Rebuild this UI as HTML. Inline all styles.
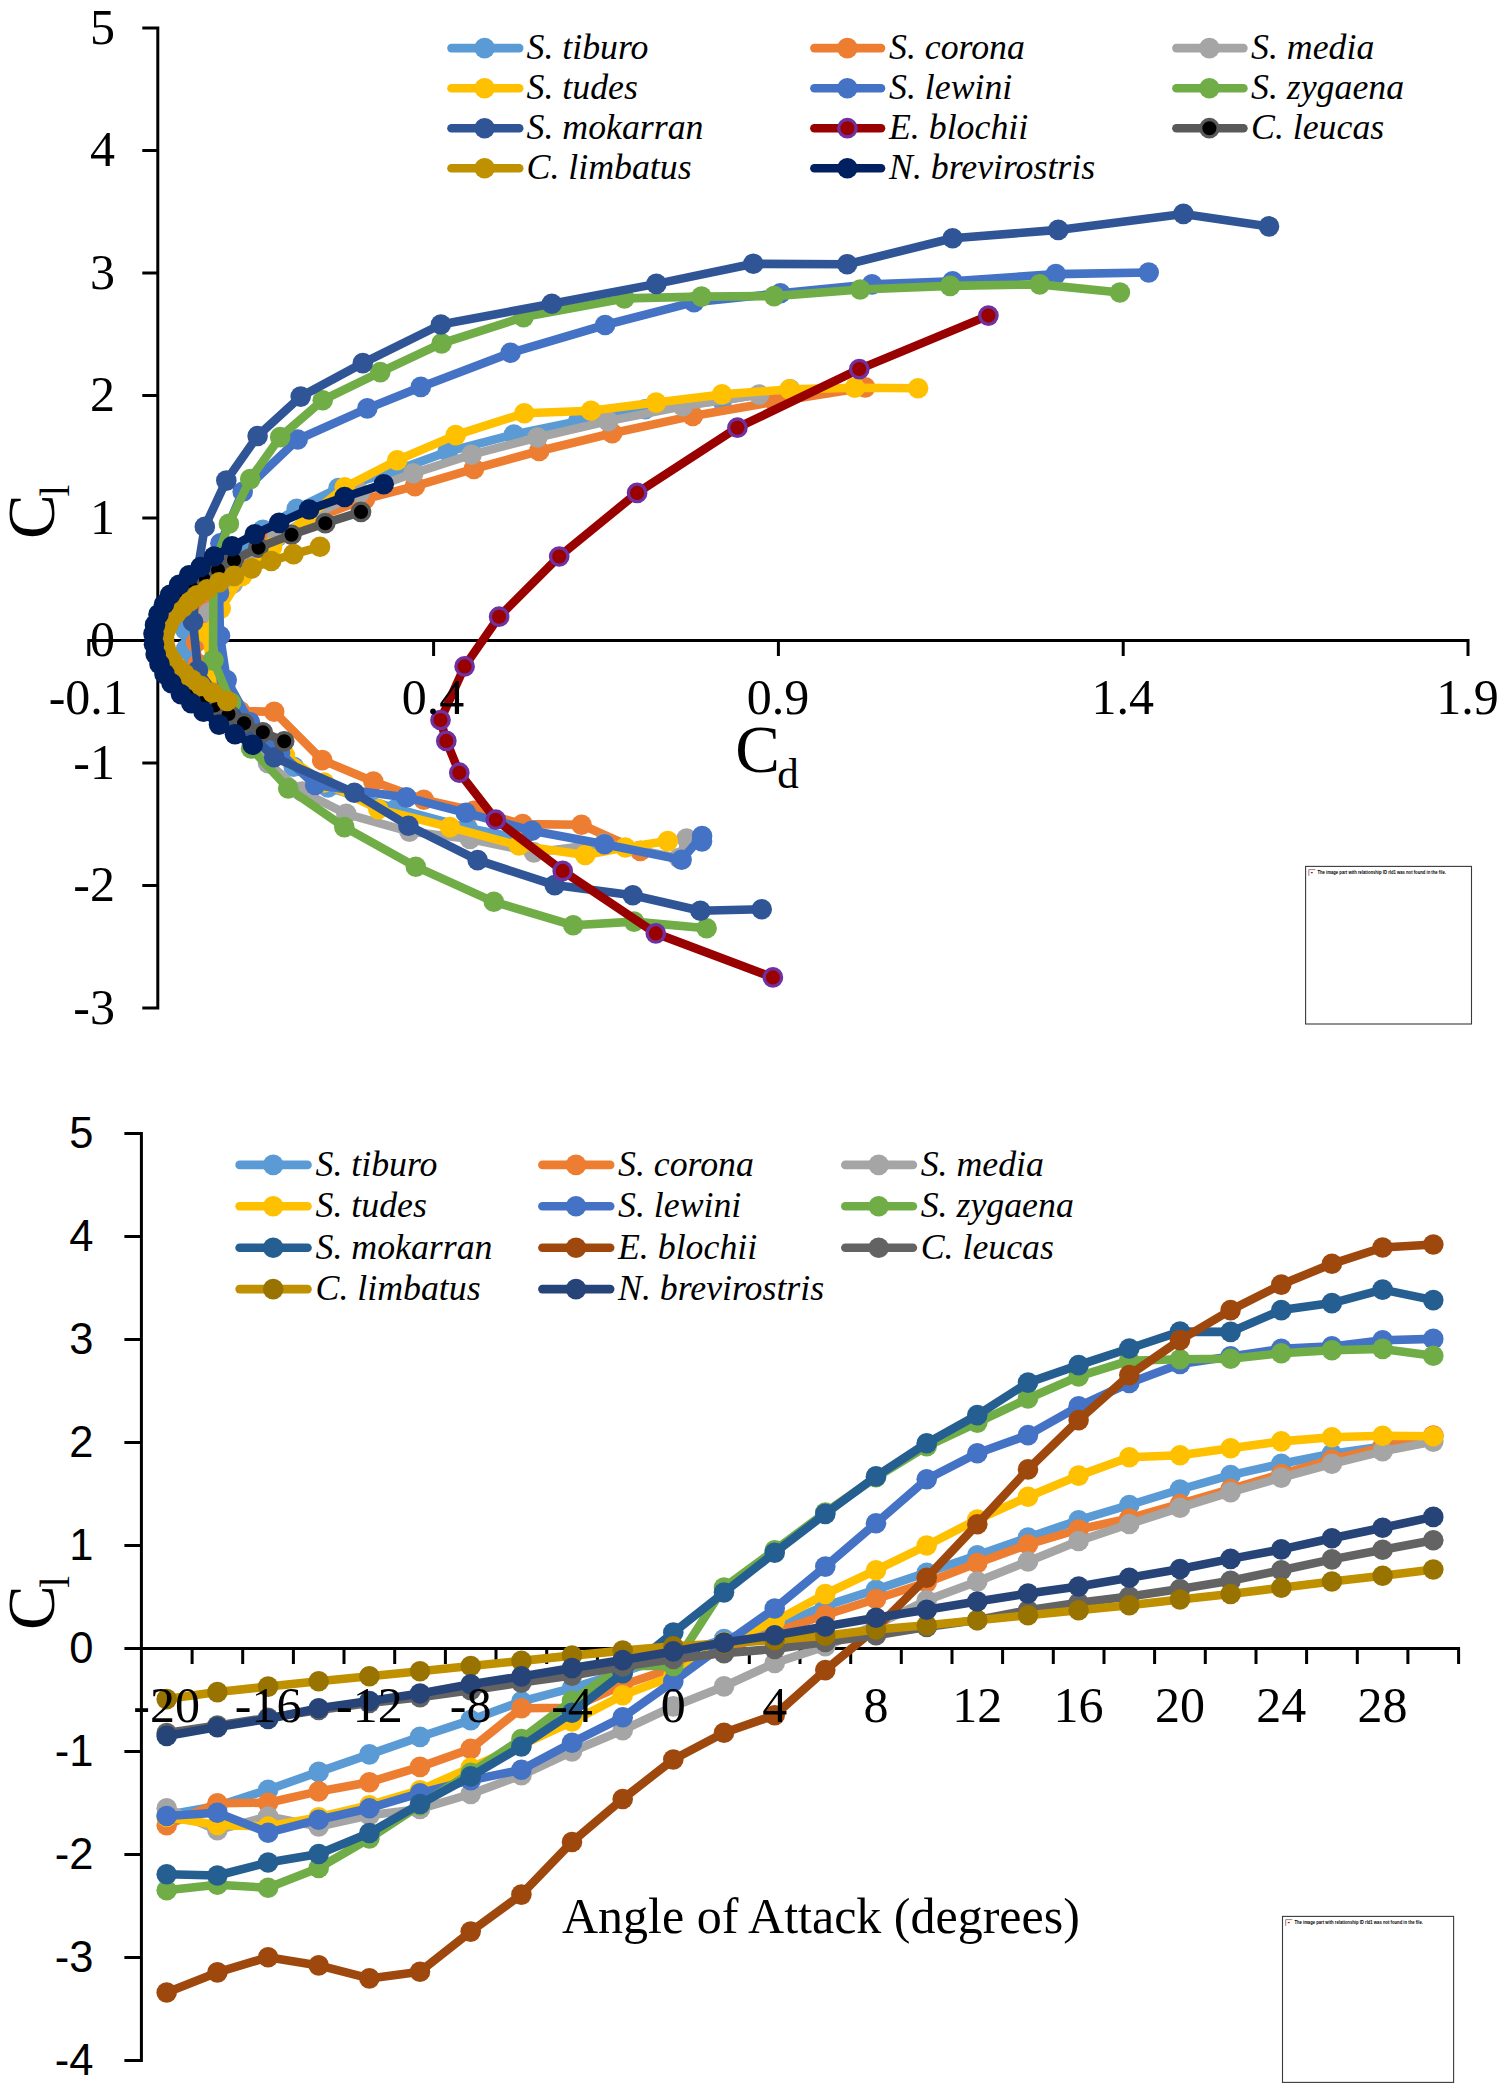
<!DOCTYPE html>
<html lang="en"><head><meta charset="utf-8"><title>Lift and drag coefficients</title>
<style>html,body{margin:0;padding:0;background:#fff}body{width:1498px;height:2091px;overflow:hidden}svg{display:block}text{font-family:"Liberation Serif","DejaVu Serif",serif;fill:#000}.tk{font-size:50px}.lg{font-size:35.8px;font-style:italic}.sans,.sg text{font-family:"Liberation Sans","DejaVu Sans",sans-serif}.ax{stroke:#000;stroke-width:3;fill:none;stroke-linecap:square}.s{fill:none;stroke-width:8.6;stroke-linejoin:round;stroke-linecap:round}</style></head><body>
<svg width="1498" height="2091" viewBox="0 0 1498 2091">
<rect width="1498" height="2091" fill="#fff"/>
<path class="ax" d="M157.8 28.1V1008.1M143.8 1008.1H157.8M143.8 885.6H157.8M143.8 763.1H157.8M143.8 640.6H157.8M143.8 518.1H157.8M143.8 395.6H157.8M143.8 273.1H157.8M143.8 150.6H157.8M143.8 28.1H157.8M88.8 640.6H1468M88.8 640.6V654.6M433.6 640.6V654.6M778.4 640.6V654.6M1123.2 640.6V654.6M1468 640.6V654.6"/>
<g>
<polyline class="s" stroke="#5B9BD5" points="522,838.7 467.6,828 396.3,808.7 328,787.5 293.7,766.7 263.6,745.9 237.8,725.9 216.8,703.6 201,687.9 190.6,668.7 186,649 185,629.4 191.3,615.7 206.7,589.9 226.3,570.8 245,550.6 262.8,529.8 296.7,508.7 338.5,488.1 397,470.1 447.8,451.6 513.9,434.5 578.3,421.1 645.2,409.2 722,400.5 790,389.3"/>
<g fill="#5B9BD5">
<circle cx="522" cy="838.7" r="10.3"/>
<circle cx="467.6" cy="828" r="10.3"/>
<circle cx="396.3" cy="808.7" r="10.3"/>
<circle cx="328" cy="787.5" r="10.3"/>
<circle cx="293.7" cy="766.7" r="10.3"/>
<circle cx="263.6" cy="745.9" r="10.3"/>
<circle cx="237.8" cy="725.9" r="10.3"/>
<circle cx="216.8" cy="703.6" r="10.3"/>
<circle cx="201" cy="687.9" r="10.3"/>
<circle cx="190.6" cy="668.7" r="10.3"/>
<circle cx="186" cy="649" r="10.3"/>
<circle cx="185" cy="629.4" r="10.3"/>
<circle cx="191.3" cy="615.7" r="10.3"/>
<circle cx="206.7" cy="589.9" r="10.3"/>
<circle cx="226.3" cy="570.8" r="10.3"/>
<circle cx="245" cy="550.6" r="10.3"/>
<circle cx="262.8" cy="529.8" r="10.3"/>
<circle cx="296.7" cy="508.7" r="10.3"/>
<circle cx="338.5" cy="488.1" r="10.3"/>
<circle cx="397" cy="470.1" r="10.3"/>
<circle cx="447.8" cy="451.6" r="10.3"/>
<circle cx="513.9" cy="434.5" r="10.3"/>
<circle cx="578.3" cy="421.1" r="10.3"/>
<circle cx="645.2" cy="409.2" r="10.3"/>
<circle cx="722" cy="400.5" r="10.3"/>
<circle cx="790" cy="389.3" r="10.3"/>
</g></g>
<g>
<polyline class="s" stroke="#ED7D31" points="640.3,850.9 581.5,824.7 522.6,824.1 473.8,810.7 423.8,799.7 373.3,781.5 322.2,760.1 274.2,711.7 240,711.1 213.2,684.1 198,663.9 196,642.5 198.2,621.1 204,600.9 222,581.8 243,562.2 270,539 318,517 365,499.2 415,486.1 473.9,468.9 539.2,451 612.2,433.2 692.8,415.9 775,401.7 865.2,387.4"/>
<g fill="#ED7D31">
<circle cx="640.3" cy="850.9" r="10.3"/>
<circle cx="581.5" cy="824.7" r="10.3"/>
<circle cx="522.6" cy="824.1" r="10.3"/>
<circle cx="473.8" cy="810.7" r="10.3"/>
<circle cx="423.8" cy="799.7" r="10.3"/>
<circle cx="373.3" cy="781.5" r="10.3"/>
<circle cx="322.2" cy="760.1" r="10.3"/>
<circle cx="274.2" cy="711.7" r="10.3"/>
<circle cx="240" cy="711.1" r="10.3"/>
<circle cx="213.2" cy="684.1" r="10.3"/>
<circle cx="198" cy="663.9" r="10.3"/>
<circle cx="196" cy="642.5" r="10.3"/>
<circle cx="198.2" cy="621.1" r="10.3"/>
<circle cx="204" cy="600.9" r="10.3"/>
<circle cx="222" cy="581.8" r="10.3"/>
<circle cx="243" cy="562.2" r="10.3"/>
<circle cx="270" cy="539" r="10.3"/>
<circle cx="318" cy="517" r="10.3"/>
<circle cx="365" cy="499.2" r="10.3"/>
<circle cx="415" cy="486.1" r="10.3"/>
<circle cx="473.9" cy="468.9" r="10.3"/>
<circle cx="539.2" cy="451" r="10.3"/>
<circle cx="612.2" cy="433.2" r="10.3"/>
<circle cx="692.8" cy="415.9" r="10.3"/>
<circle cx="775" cy="401.7" r="10.3"/>
<circle cx="865.2" cy="387.4" r="10.3"/>
</g></g>
<g>
<polyline class="s" stroke="#A5A5A5" points="686.6,838.5 679,858 604,843.5 533.9,852.4 470,839 409.4,831.6 346.3,813.8 302,791.5 268,763.2 251.4,737.9 237.1,709.6 225.3,685.8 216.5,658 210.9,638.1 209,612.8 233,583.4 250,561 277,537.2 318,512.9 360,492.6 413.3,473.3 471.5,454.7 537.4,437.5 608.2,421.1 682.8,406.2 759.1,394.6"/>
<g fill="#A5A5A5">
<circle cx="686.6" cy="838.5" r="10.3"/>
<circle cx="679" cy="858" r="10.3"/>
<circle cx="604" cy="843.5" r="10.3"/>
<circle cx="533.9" cy="852.4" r="10.3"/>
<circle cx="470" cy="839" r="10.3"/>
<circle cx="409.4" cy="831.6" r="10.3"/>
<circle cx="346.3" cy="813.8" r="10.3"/>
<circle cx="302" cy="791.5" r="10.3"/>
<circle cx="268" cy="763.2" r="10.3"/>
<circle cx="251.4" cy="737.9" r="10.3"/>
<circle cx="237.1" cy="709.6" r="10.3"/>
<circle cx="225.3" cy="685.8" r="10.3"/>
<circle cx="216.5" cy="658" r="10.3"/>
<circle cx="210.9" cy="638.1" r="10.3"/>
<circle cx="209" cy="612.8" r="10.3"/>
<circle cx="233" cy="583.4" r="10.3"/>
<circle cx="250" cy="561" r="10.3"/>
<circle cx="277" cy="537.2" r="10.3"/>
<circle cx="318" cy="512.9" r="10.3"/>
<circle cx="360" cy="492.6" r="10.3"/>
<circle cx="413.3" cy="473.3" r="10.3"/>
<circle cx="471.5" cy="454.7" r="10.3"/>
<circle cx="537.4" cy="437.5" r="10.3"/>
<circle cx="608.2" cy="421.1" r="10.3"/>
<circle cx="682.8" cy="406.2" r="10.3"/>
<circle cx="759.1" cy="394.6" r="10.3"/>
</g></g>
<g>
<polyline class="s" stroke="#FFC000" points="667.8,841.1 625.3,847.5 585.2,855 518.9,845.5 450,827.1 378.3,809.2 324,782.5 285,755.5 250,727.5 228,696.3 212,673.4 206,633 220.7,608.6 242,575.9 272,547.6 306,518.2 344.7,487.3 397.2,460.2 455.7,435.1 524.3,413.3 591,410.8 656.1,402.6 722,394.4 789.6,389.4 854.8,387.8 918.1,388.2"/>
<g fill="#FFC000">
<circle cx="667.8" cy="841.1" r="10.3"/>
<circle cx="625.3" cy="847.5" r="10.3"/>
<circle cx="585.2" cy="855" r="10.3"/>
<circle cx="518.9" cy="845.5" r="10.3"/>
<circle cx="450" cy="827.1" r="10.3"/>
<circle cx="378.3" cy="809.2" r="10.3"/>
<circle cx="324" cy="782.5" r="10.3"/>
<circle cx="285" cy="755.5" r="10.3"/>
<circle cx="250" cy="727.5" r="10.3"/>
<circle cx="228" cy="696.3" r="10.3"/>
<circle cx="212" cy="673.4" r="10.3"/>
<circle cx="206" cy="633" r="10.3"/>
<circle cx="220.7" cy="608.6" r="10.3"/>
<circle cx="242" cy="575.9" r="10.3"/>
<circle cx="272" cy="547.6" r="10.3"/>
<circle cx="306" cy="518.2" r="10.3"/>
<circle cx="344.7" cy="487.3" r="10.3"/>
<circle cx="397.2" cy="460.2" r="10.3"/>
<circle cx="455.7" cy="435.1" r="10.3"/>
<circle cx="524.3" cy="413.3" r="10.3"/>
<circle cx="591" cy="410.8" r="10.3"/>
<circle cx="656.1" cy="402.6" r="10.3"/>
<circle cx="722" cy="394.4" r="10.3"/>
<circle cx="789.6" cy="389.4" r="10.3"/>
<circle cx="854.8" cy="387.8" r="10.3"/>
<circle cx="918.1" cy="388.2" r="10.3"/>
</g></g>
<g>
<polyline class="s" stroke="#4472C4" points="702,841.5 702.1,836 681.6,859.8 604.5,844.3 531.9,830.7 465.8,812.8 406.4,797.4 315.2,785 280,752.8 250,722.4 226.7,680.1 220,635.7 219,593.1 220.4,543.3 242.7,491.7 297.7,439.5 367.3,408.4 420.8,386.9 510.6,352.8 605.1,325 694,302.2 780.4,293.3 872,284.4 952.6,281.4 1055.8,274.1 1148.7,272.5"/>
<g fill="#4472C4">
<circle cx="702" cy="841.5" r="10.3"/>
<circle cx="702.1" cy="836" r="10.3"/>
<circle cx="681.6" cy="859.8" r="10.3"/>
<circle cx="604.5" cy="844.3" r="10.3"/>
<circle cx="531.9" cy="830.7" r="10.3"/>
<circle cx="465.8" cy="812.8" r="10.3"/>
<circle cx="406.4" cy="797.4" r="10.3"/>
<circle cx="315.2" cy="785" r="10.3"/>
<circle cx="280" cy="752.8" r="10.3"/>
<circle cx="250" cy="722.4" r="10.3"/>
<circle cx="226.7" cy="680.1" r="10.3"/>
<circle cx="220" cy="635.7" r="10.3"/>
<circle cx="219" cy="593.1" r="10.3"/>
<circle cx="220.4" cy="543.3" r="10.3"/>
<circle cx="242.7" cy="491.7" r="10.3"/>
<circle cx="297.7" cy="439.5" r="10.3"/>
<circle cx="367.3" cy="408.4" r="10.3"/>
<circle cx="420.8" cy="386.9" r="10.3"/>
<circle cx="510.6" cy="352.8" r="10.3"/>
<circle cx="605.1" cy="325" r="10.3"/>
<circle cx="694" cy="302.2" r="10.3"/>
<circle cx="780.4" cy="293.3" r="10.3"/>
<circle cx="872" cy="284.4" r="10.3"/>
<circle cx="952.6" cy="281.4" r="10.3"/>
<circle cx="1055.8" cy="274.1" r="10.3"/>
<circle cx="1148.7" cy="272.5" r="10.3"/>
</g></g>
<g>
<polyline class="s" stroke="#70AD47" points="706.6,928.3 634,921.6 573.2,925.3 493.8,901.8 415.8,866.7 344.3,827.1 288.2,788.4 251.1,748.4 231,702.8 213.5,660.5 213,660 213.5,568.2 228.9,523.8 250.2,479.1 280.2,437.1 322.7,400.2 380.3,372.1 441.6,343.4 523.5,317.1 624.4,298.4 701.5,296.6 774.1,296.1 860.2,289.5 950.1,285.9 1039.7,284.4 1119.9,292.5"/>
<g fill="#70AD47">
<circle cx="706.6" cy="928.3" r="10.3"/>
<circle cx="634" cy="921.6" r="10.3"/>
<circle cx="573.2" cy="925.3" r="10.3"/>
<circle cx="493.8" cy="901.8" r="10.3"/>
<circle cx="415.8" cy="866.7" r="10.3"/>
<circle cx="344.3" cy="827.1" r="10.3"/>
<circle cx="288.2" cy="788.4" r="10.3"/>
<circle cx="251.1" cy="748.4" r="10.3"/>
<circle cx="231" cy="702.8" r="10.3"/>
<circle cx="213.5" cy="660.5" r="10.3"/>
<circle cx="213" cy="660" r="10.3"/>
<circle cx="213.5" cy="568.2" r="10.3"/>
<circle cx="228.9" cy="523.8" r="10.3"/>
<circle cx="250.2" cy="479.1" r="10.3"/>
<circle cx="280.2" cy="437.1" r="10.3"/>
<circle cx="322.7" cy="400.2" r="10.3"/>
<circle cx="380.3" cy="372.1" r="10.3"/>
<circle cx="441.6" cy="343.4" r="10.3"/>
<circle cx="523.5" cy="317.1" r="10.3"/>
<circle cx="624.4" cy="298.4" r="10.3"/>
<circle cx="701.5" cy="296.6" r="10.3"/>
<circle cx="774.1" cy="296.1" r="10.3"/>
<circle cx="860.2" cy="289.5" r="10.3"/>
<circle cx="950.1" cy="285.9" r="10.3"/>
<circle cx="1039.7" cy="284.4" r="10.3"/>
<circle cx="1119.9" cy="292.5" r="10.3"/>
</g></g>
<g>
<polyline class="s" stroke="#2F5597" points="761.7,909.3 700.4,910.7 632.8,895.2 554.7,885.1 477.6,860.1 408.4,825.7 354.3,792.8 274.2,757.3 232,717.1 198,670.2 193,621.8 197,574.1 204.8,526.8 226.3,480.6 257.6,436 300.7,396.6 362.8,363.1 440.9,324.5 551.8,303.7 656.4,283.9 753.3,263.8 847.2,264.2 952.6,238.3 1058.3,229.9 1183.4,213.9 1269,226.4"/>
<g fill="#2F5597">
<circle cx="761.7" cy="909.3" r="10.3"/>
<circle cx="700.4" cy="910.7" r="10.3"/>
<circle cx="632.8" cy="895.2" r="10.3"/>
<circle cx="554.7" cy="885.1" r="10.3"/>
<circle cx="477.6" cy="860.1" r="10.3"/>
<circle cx="408.4" cy="825.7" r="10.3"/>
<circle cx="354.3" cy="792.8" r="10.3"/>
<circle cx="274.2" cy="757.3" r="10.3"/>
<circle cx="232" cy="717.1" r="10.3"/>
<circle cx="198" cy="670.2" r="10.3"/>
<circle cx="193" cy="621.8" r="10.3"/>
<circle cx="197" cy="574.1" r="10.3"/>
<circle cx="204.8" cy="526.8" r="10.3"/>
<circle cx="226.3" cy="480.6" r="10.3"/>
<circle cx="257.6" cy="436" r="10.3"/>
<circle cx="300.7" cy="396.6" r="10.3"/>
<circle cx="362.8" cy="363.1" r="10.3"/>
<circle cx="440.9" cy="324.5" r="10.3"/>
<circle cx="551.8" cy="303.7" r="10.3"/>
<circle cx="656.4" cy="283.9" r="10.3"/>
<circle cx="753.3" cy="263.8" r="10.3"/>
<circle cx="847.2" cy="264.2" r="10.3"/>
<circle cx="952.6" cy="238.3" r="10.3"/>
<circle cx="1058.3" cy="229.9" r="10.3"/>
<circle cx="1183.4" cy="213.9" r="10.3"/>
<circle cx="1269" cy="226.4" r="10.3"/>
</g></g>
<g>
<polyline class="s" stroke="#990000" points="772.9,977.4 655.8,933.4 562.7,870.9 495.8,819.7 459.3,772.7 446.3,740.9 440.5,720 464.6,666.4 499.1,616.7 559.2,556.5 637.1,492.9 737.4,427.7 859.3,369.1 988.4,315.6"/>
<g fill="#990000" stroke="#7030A0" stroke-width="3.3">
<circle cx="772.9" cy="977.4" r="8.7"/>
<circle cx="655.8" cy="933.4" r="8.7"/>
<circle cx="562.7" cy="870.9" r="8.7"/>
<circle cx="495.8" cy="819.7" r="8.7"/>
<circle cx="459.3" cy="772.7" r="8.7"/>
<circle cx="446.3" cy="740.9" r="8.7"/>
<circle cx="440.5" cy="720" r="8.7"/>
<circle cx="464.6" cy="666.4" r="8.7"/>
<circle cx="499.1" cy="616.7" r="8.7"/>
<circle cx="559.2" cy="556.5" r="8.7"/>
<circle cx="637.1" cy="492.9" r="8.7"/>
<circle cx="737.4" cy="427.7" r="8.7"/>
<circle cx="859.3" cy="369.1" r="8.7"/>
<circle cx="988.4" cy="315.6" r="8.7"/>
</g></g>
<g>
<polyline class="s" stroke="#595959" points="284.2,741.3 262.8,732.3 244.1,723.3 228.5,713.9 214.5,705.5 203,698.8 192,690.4 180,681.3 172.7,672.9 165.6,662 161.9,653.1 160.4,646.2 160,641.3 160.7,633 162.9,625 167.9,615.1 173.8,606.8 184.9,595.3 196,586.4 206,578.9 218,570 234,560.1 258.5,547.6 291.5,534.8 325.3,523.2 361,511.9"/>
<g fill="#000000" stroke="#595959" stroke-width="3.3">
<circle cx="284.2" cy="741.3" r="8.7"/>
<circle cx="262.8" cy="732.3" r="8.7"/>
<circle cx="244.1" cy="723.3" r="8.7"/>
<circle cx="228.5" cy="713.9" r="8.7"/>
<circle cx="214.5" cy="705.5" r="8.7"/>
<circle cx="203" cy="698.8" r="8.7"/>
<circle cx="192" cy="690.4" r="8.7"/>
<circle cx="180" cy="681.3" r="8.7"/>
<circle cx="172.7" cy="672.9" r="8.7"/>
<circle cx="165.6" cy="662" r="8.7"/>
<circle cx="161.9" cy="653.1" r="8.7"/>
<circle cx="160.4" cy="646.2" r="8.7"/>
<circle cx="160" cy="641.3" r="8.7"/>
<circle cx="160.7" cy="633" r="8.7"/>
<circle cx="162.9" cy="625" r="8.7"/>
<circle cx="167.9" cy="615.1" r="8.7"/>
<circle cx="173.8" cy="606.8" r="8.7"/>
<circle cx="184.9" cy="595.3" r="8.7"/>
<circle cx="196" cy="586.4" r="8.7"/>
<circle cx="206" cy="578.9" r="8.7"/>
<circle cx="218" cy="570" r="8.7"/>
<circle cx="234" cy="560.1" r="8.7"/>
<circle cx="258.5" cy="547.6" r="8.7"/>
<circle cx="291.5" cy="534.8" r="8.7"/>
<circle cx="325.3" cy="523.2" r="8.7"/>
<circle cx="361" cy="511.9" r="8.7"/>
</g></g>
<g>
<polyline class="s" stroke="#BF9000" points="227.1,700.9 212.5,692.6 201,686 192,679.7 184.5,673.8 178,667.8 172.5,661.5 168.5,655.5 166,649.2 164.5,643.2 164,638.2 164.3,634.8 165.5,630.6 168,625.6 171.5,618.1 176.5,613.1 183,607.2 190,601.2 197,595.3 207.1,589.3 219.1,582.4 234.1,575.9 251.7,568.4 271.2,561 293.5,554.1 320,546.8"/>
<g fill="#BF9000">
<circle cx="227.1" cy="700.9" r="10.3"/>
<circle cx="212.5" cy="692.6" r="10.3"/>
<circle cx="201" cy="686" r="10.3"/>
<circle cx="192" cy="679.7" r="10.3"/>
<circle cx="184.5" cy="673.8" r="10.3"/>
<circle cx="178" cy="667.8" r="10.3"/>
<circle cx="172.5" cy="661.5" r="10.3"/>
<circle cx="168.5" cy="655.5" r="10.3"/>
<circle cx="166" cy="649.2" r="10.3"/>
<circle cx="164.5" cy="643.2" r="10.3"/>
<circle cx="164" cy="638.2" r="10.3"/>
<circle cx="164.3" cy="634.8" r="10.3"/>
<circle cx="165.5" cy="630.6" r="10.3"/>
<circle cx="168" cy="625.6" r="10.3"/>
<circle cx="171.5" cy="618.1" r="10.3"/>
<circle cx="176.5" cy="613.1" r="10.3"/>
<circle cx="183" cy="607.2" r="10.3"/>
<circle cx="190" cy="601.2" r="10.3"/>
<circle cx="197" cy="595.3" r="10.3"/>
<circle cx="207.1" cy="589.3" r="10.3"/>
<circle cx="219.1" cy="582.4" r="10.3"/>
<circle cx="234.1" cy="575.9" r="10.3"/>
<circle cx="251.7" cy="568.4" r="10.3"/>
<circle cx="271.2" cy="561" r="10.3"/>
<circle cx="293.5" cy="554.1" r="10.3"/>
<circle cx="320" cy="546.8" r="10.3"/>
</g></g>
<g>
<polyline class="s" stroke="#002060" points="252.7,744.7 235,734.2 219,724.6 203.5,711.8 191.3,703.2 181,694.2 171.5,683.3 164.5,673.9 159.5,664 155.7,654.5 154,644.2 153.5,633.7 155,624.9 158.5,614.4 164,604.2 170.1,594.7 179.1,584.8 189.1,575.3 200.6,567 214.1,556.5 232,546.2 254.8,534.2 279.2,522.9 309.1,509.5 344.6,497 383.7,484.2"/>
<g fill="#002060">
<circle cx="252.7" cy="744.7" r="10.3"/>
<circle cx="235" cy="734.2" r="10.3"/>
<circle cx="219" cy="724.6" r="10.3"/>
<circle cx="203.5" cy="711.8" r="10.3"/>
<circle cx="191.3" cy="703.2" r="10.3"/>
<circle cx="181" cy="694.2" r="10.3"/>
<circle cx="171.5" cy="683.3" r="10.3"/>
<circle cx="164.5" cy="673.9" r="10.3"/>
<circle cx="159.5" cy="664" r="10.3"/>
<circle cx="155.7" cy="654.5" r="10.3"/>
<circle cx="154" cy="644.2" r="10.3"/>
<circle cx="153.5" cy="633.7" r="10.3"/>
<circle cx="155" cy="624.9" r="10.3"/>
<circle cx="158.5" cy="614.4" r="10.3"/>
<circle cx="164" cy="604.2" r="10.3"/>
<circle cx="170.1" cy="594.7" r="10.3"/>
<circle cx="179.1" cy="584.8" r="10.3"/>
<circle cx="189.1" cy="575.3" r="10.3"/>
<circle cx="200.6" cy="567" r="10.3"/>
<circle cx="214.1" cy="556.5" r="10.3"/>
<circle cx="232" cy="546.2" r="10.3"/>
<circle cx="254.8" cy="534.2" r="10.3"/>
<circle cx="279.2" cy="522.9" r="10.3"/>
<circle cx="309.1" cy="509.5" r="10.3"/>
<circle cx="344.6" cy="497" r="10.3"/>
<circle cx="383.7" cy="484.2" r="10.3"/>
</g></g>
<g class="tk" text-anchor="end">
<text x="115" y="1023.8">-3</text>
<text x="115" y="901.3">-2</text>
<text x="115" y="778.8">-1</text>
<text x="115" y="656.3">0</text>
<text x="115" y="533.8">1</text>
<text x="115" y="411.3">2</text>
<text x="115" y="288.8">3</text>
<text x="115" y="166.3">4</text>
<text x="115" y="43.8">5</text>
</g>
<g class="tk" text-anchor="middle">
<text x="88.3" y="714.3">-0.1</text>
<text x="433.1" y="714.3">0.4</text>
<text x="777.9" y="714.3">0.9</text>
<text x="1122.7" y="714.3">1.4</text>
<text x="1467.5" y="714.3">1.9</text>
</g>
<text x="735.2" y="771.6" font-size="67">C</text><text x="777.2" y="787.6" font-size="43">d</text>
<text transform="translate(54.2,538.9) rotate(-90)" font-size="67">C</text><text transform="translate(69.2,496.6) rotate(-90)" font-size="42.5">l</text>
<line class="s" stroke="#5B9BD5" x1="451.5" y1="48.1" x2="519.2" y2="48.1"/>
<circle cx="484.6" cy="48.1" r="10.3" fill="#5B9BD5"/>
<text class="lg" x="526.5" y="58.7">S. tiburo</text>
<line class="s" stroke="#ED7D31" x1="814.4" y1="48.1" x2="881" y2="48.1"/>
<circle cx="847.4" cy="48.1" r="10.3" fill="#ED7D31"/>
<text class="lg" x="889" y="58.7">S. corona</text>
<line class="s" stroke="#A5A5A5" x1="1176.4" y1="48.1" x2="1243.4" y2="48.1"/>
<circle cx="1209.4" cy="48.1" r="10.3" fill="#A5A5A5"/>
<text class="lg" x="1251" y="58.7">S. media</text>
<line class="s" stroke="#FFC000" x1="451.5" y1="88.2" x2="519.2" y2="88.2"/>
<circle cx="484.6" cy="88.2" r="10.3" fill="#FFC000"/>
<text class="lg" x="526.5" y="98.8">S. tudes</text>
<line class="s" stroke="#4472C4" x1="814.4" y1="88.2" x2="881" y2="88.2"/>
<circle cx="847.4" cy="88.2" r="10.3" fill="#4472C4"/>
<text class="lg" x="889" y="98.8">S. lewini</text>
<line class="s" stroke="#70AD47" x1="1176.4" y1="88.2" x2="1243.4" y2="88.2"/>
<circle cx="1209.4" cy="88.2" r="10.3" fill="#70AD47"/>
<text class="lg" x="1251" y="98.8">S. zygaena</text>
<line class="s" stroke="#2F5597" x1="451.5" y1="128.2" x2="519.2" y2="128.2"/>
<circle cx="484.6" cy="128.2" r="10.3" fill="#2F5597"/>
<text class="lg" x="526.5" y="138.8">S. mokarran</text>
<line class="s" stroke="#990000" x1="814.4" y1="128.2" x2="881" y2="128.2"/>
<circle cx="847.4" cy="128.2" r="8.7" fill="#990000" stroke="#7030A0" stroke-width="3.3"/>
<text class="lg" x="889" y="138.8">E. blochii</text>
<line class="s" stroke="#595959" x1="1176.4" y1="128.2" x2="1243.4" y2="128.2"/>
<circle cx="1209.4" cy="128.2" r="8.7" fill="#000000" stroke="#595959" stroke-width="3.3"/>
<text class="lg" x="1251" y="138.8">C. leucas</text>
<line class="s" stroke="#BF9000" x1="451.5" y1="168.2" x2="519.2" y2="168.2"/>
<circle cx="484.6" cy="168.2" r="10.3" fill="#BF9000"/>
<text class="lg" x="526.5" y="178.8">C. limbatus</text>
<line class="s" stroke="#002060" x1="814.4" y1="168.2" x2="881" y2="168.2"/>
<circle cx="847.4" cy="168.2" r="10.3" fill="#002060"/>
<text class="lg" x="889" y="178.8">N. brevirostris</text>
<rect x="1305.6" y="866.4" width="165.9" height="157.6" fill="#fff" stroke="#3a3a3a" stroke-width="1.1"/>
<path d="M1308.8 875.9v-6.3h6.6" fill="none" stroke="#8a8a8a" stroke-width="1"/>
<rect x="1310.8" y="872" width="2" height="1.2" fill="#e00"/>
<text class="sans" x="1317.5" y="873.9" font-size="5.1" font-weight="bold" textLength="128.5" lengthAdjust="spacingAndGlyphs">The image part with relationship ID rId1 was not found in the file.</text>
<path class="ax" d="M141.4 1133.4V2060.4M125.9 2060.4H141.4M125.9 1957.4H141.4M125.9 1854.4H141.4M125.9 1751.4H141.4M125.9 1648.4H141.4M125.9 1545.4H141.4M125.9 1442.4H141.4M125.9 1339.4H141.4M125.9 1236.4H141.4M125.9 1133.4H141.4M141.4 1648.4H1458.6M192.1 1648.4V1662.4M242.7 1648.4V1662.4M293.4 1648.4V1662.4M344 1648.4V1662.4M394.7 1648.4V1662.4M445.4 1648.4V1662.4M496 1648.4V1662.4M546.7 1648.4V1662.4M597.4 1648.4V1662.4M648 1648.4V1662.4M698.7 1648.4V1662.4M749.3 1648.4V1662.4M800 1648.4V1662.4M850.7 1648.4V1662.4M901.3 1648.4V1662.4M952 1648.4V1662.4M1002.6 1648.4V1662.4M1053.3 1648.4V1662.4M1104 1648.4V1662.4M1154.6 1648.4V1662.4M1205.3 1648.4V1662.4M1256 1648.4V1662.4M1306.6 1648.4V1662.4M1357.3 1648.4V1662.4M1407.9 1648.4V1662.4M1458.6 1648.4V1662.4"/>
<g>
<polyline class="s" stroke="#5B9BD5" points="166.7,1815 217.4,1806 268.1,1789.7 318.7,1771.9 369.4,1754.4 420,1736.9 470.7,1720.1 521.4,1701.4 572,1688.2 622.7,1672 673.3,1655.5 724,1639 774.7,1627.5 825.3,1605.8 876,1589.7 926.7,1572.7 977.3,1555.2 1028,1537.5 1078.6,1520.2 1129.3,1505 1180,1489.5 1230.6,1475.1 1281.3,1463.8 1331.9,1453.8 1382.6,1446.5 1433.3,1436"/>
<g fill="#5B9BD5">
<circle cx="166.7" cy="1815" r="10.3"/>
<circle cx="217.4" cy="1806" r="10.3"/>
<circle cx="268.1" cy="1789.7" r="10.3"/>
<circle cx="318.7" cy="1771.9" r="10.3"/>
<circle cx="369.4" cy="1754.4" r="10.3"/>
<circle cx="420" cy="1736.9" r="10.3"/>
<circle cx="470.7" cy="1720.1" r="10.3"/>
<circle cx="521.4" cy="1701.4" r="10.3"/>
<circle cx="572" cy="1688.2" r="10.3"/>
<circle cx="622.7" cy="1672" r="10.3"/>
<circle cx="673.3" cy="1655.5" r="10.3"/>
<circle cx="724" cy="1639" r="10.3"/>
<circle cx="774.7" cy="1627.5" r="10.3"/>
<circle cx="825.3" cy="1605.8" r="10.3"/>
<circle cx="876" cy="1589.7" r="10.3"/>
<circle cx="926.7" cy="1572.7" r="10.3"/>
<circle cx="977.3" cy="1555.2" r="10.3"/>
<circle cx="1028" cy="1537.5" r="10.3"/>
<circle cx="1078.6" cy="1520.2" r="10.3"/>
<circle cx="1129.3" cy="1505" r="10.3"/>
<circle cx="1180" cy="1489.5" r="10.3"/>
<circle cx="1230.6" cy="1475.1" r="10.3"/>
<circle cx="1281.3" cy="1463.8" r="10.3"/>
<circle cx="1331.9" cy="1453.8" r="10.3"/>
<circle cx="1382.6" cy="1446.5" r="10.3"/>
<circle cx="1433.3" cy="1436" r="10.3"/>
</g></g>
<g>
<polyline class="s" stroke="#ED7D31" points="166.7,1825.2 217.4,1803.2 268.1,1802.7 318.7,1791.4 369.4,1782.2 420,1766.9 470.7,1748.9 521.4,1708.2 572,1707.7 622.7,1685 673.3,1668 724,1650 774.7,1632 825.3,1615 876,1599 926.7,1582.5 977.3,1563 1028,1544.5 1078.6,1529.5 1129.3,1518.5 1180,1504 1230.6,1489 1281.3,1474 1331.9,1459.5 1382.6,1447.5 1433.3,1435.5"/>
<g fill="#ED7D31">
<circle cx="166.7" cy="1825.2" r="10.3"/>
<circle cx="217.4" cy="1803.2" r="10.3"/>
<circle cx="268.1" cy="1802.7" r="10.3"/>
<circle cx="318.7" cy="1791.4" r="10.3"/>
<circle cx="369.4" cy="1782.2" r="10.3"/>
<circle cx="420" cy="1766.9" r="10.3"/>
<circle cx="470.7" cy="1748.9" r="10.3"/>
<circle cx="521.4" cy="1708.2" r="10.3"/>
<circle cx="572" cy="1707.7" r="10.3"/>
<circle cx="622.7" cy="1685" r="10.3"/>
<circle cx="673.3" cy="1668" r="10.3"/>
<circle cx="724" cy="1650" r="10.3"/>
<circle cx="774.7" cy="1632" r="10.3"/>
<circle cx="825.3" cy="1615" r="10.3"/>
<circle cx="876" cy="1599" r="10.3"/>
<circle cx="926.7" cy="1582.5" r="10.3"/>
<circle cx="977.3" cy="1563" r="10.3"/>
<circle cx="1028" cy="1544.5" r="10.3"/>
<circle cx="1078.6" cy="1529.5" r="10.3"/>
<circle cx="1129.3" cy="1518.5" r="10.3"/>
<circle cx="1180" cy="1504" r="10.3"/>
<circle cx="1230.6" cy="1489" r="10.3"/>
<circle cx="1281.3" cy="1474" r="10.3"/>
<circle cx="1331.9" cy="1459.5" r="10.3"/>
<circle cx="1382.6" cy="1447.5" r="10.3"/>
<circle cx="1433.3" cy="1435.5" r="10.3"/>
</g></g>
<g>
<polyline class="s" stroke="#A5A5A5" points="166.7,1808.2 217.4,1830.2 268.1,1816.5 318.7,1826.5 369.4,1815.2 420,1809 470.7,1794 521.4,1775.3 572,1751.5 622.7,1730.2 673.3,1706.4 724,1686.4 774.7,1663 825.3,1646.3 876,1625 926.7,1600.3 977.3,1581.5 1028,1561.5 1078.6,1541 1129.3,1524 1180,1507.7 1230.6,1492.1 1281.3,1477.6 1331.9,1463.8 1382.6,1451.3 1433.3,1441.6"/>
<g fill="#A5A5A5">
<circle cx="166.7" cy="1808.2" r="10.3"/>
<circle cx="217.4" cy="1830.2" r="10.3"/>
<circle cx="268.1" cy="1816.5" r="10.3"/>
<circle cx="318.7" cy="1826.5" r="10.3"/>
<circle cx="369.4" cy="1815.2" r="10.3"/>
<circle cx="420" cy="1809" r="10.3"/>
<circle cx="470.7" cy="1794" r="10.3"/>
<circle cx="521.4" cy="1775.3" r="10.3"/>
<circle cx="572" cy="1751.5" r="10.3"/>
<circle cx="622.7" cy="1730.2" r="10.3"/>
<circle cx="673.3" cy="1706.4" r="10.3"/>
<circle cx="724" cy="1686.4" r="10.3"/>
<circle cx="774.7" cy="1663" r="10.3"/>
<circle cx="825.3" cy="1646.3" r="10.3"/>
<circle cx="876" cy="1625" r="10.3"/>
<circle cx="926.7" cy="1600.3" r="10.3"/>
<circle cx="977.3" cy="1581.5" r="10.3"/>
<circle cx="1028" cy="1561.5" r="10.3"/>
<circle cx="1078.6" cy="1541" r="10.3"/>
<circle cx="1129.3" cy="1524" r="10.3"/>
<circle cx="1180" cy="1507.7" r="10.3"/>
<circle cx="1230.6" cy="1492.1" r="10.3"/>
<circle cx="1281.3" cy="1477.6" r="10.3"/>
<circle cx="1331.9" cy="1463.8" r="10.3"/>
<circle cx="1382.6" cy="1451.3" r="10.3"/>
<circle cx="1433.3" cy="1441.6" r="10.3"/>
</g></g>
<g>
<polyline class="s" stroke="#FFC000" points="166.7,1817 217.4,1825 268.1,1826.5 318.7,1817.2 369.4,1805.2 420,1790.2 470.7,1767.7 521.4,1745 572,1721.5 622.7,1695.2 673.3,1676 724,1642 774.7,1621.5 825.3,1594 876,1570.2 926.7,1545.5 977.3,1519.5 1028,1496.7 1078.6,1475.6 1129.3,1457.3 1180,1455.2 1230.6,1448.3 1281.3,1441.4 1331.9,1437.2 1382.6,1435.8 1433.3,1436.2"/>
<g fill="#FFC000">
<circle cx="166.7" cy="1817" r="10.3"/>
<circle cx="217.4" cy="1825" r="10.3"/>
<circle cx="268.1" cy="1826.5" r="10.3"/>
<circle cx="318.7" cy="1817.2" r="10.3"/>
<circle cx="369.4" cy="1805.2" r="10.3"/>
<circle cx="420" cy="1790.2" r="10.3"/>
<circle cx="470.7" cy="1767.7" r="10.3"/>
<circle cx="521.4" cy="1745" r="10.3"/>
<circle cx="572" cy="1721.5" r="10.3"/>
<circle cx="622.7" cy="1695.2" r="10.3"/>
<circle cx="673.3" cy="1676" r="10.3"/>
<circle cx="724" cy="1642" r="10.3"/>
<circle cx="774.7" cy="1621.5" r="10.3"/>
<circle cx="825.3" cy="1594" r="10.3"/>
<circle cx="876" cy="1570.2" r="10.3"/>
<circle cx="926.7" cy="1545.5" r="10.3"/>
<circle cx="977.3" cy="1519.5" r="10.3"/>
<circle cx="1028" cy="1496.7" r="10.3"/>
<circle cx="1078.6" cy="1475.6" r="10.3"/>
<circle cx="1129.3" cy="1457.3" r="10.3"/>
<circle cx="1180" cy="1455.2" r="10.3"/>
<circle cx="1230.6" cy="1448.3" r="10.3"/>
<circle cx="1281.3" cy="1441.4" r="10.3"/>
<circle cx="1331.9" cy="1437.2" r="10.3"/>
<circle cx="1382.6" cy="1435.8" r="10.3"/>
<circle cx="1433.3" cy="1436.2" r="10.3"/>
</g></g>
<g>
<polyline class="s" stroke="#4472C4" points="166.7,1816 217.4,1812.7 268.1,1832.7 318.7,1819.7 369.4,1808.2 420,1793.2 470.7,1780.2 521.4,1769.8 572,1742.7 622.7,1717.2 673.3,1681.6 724,1644.3 774.7,1608.5 825.3,1566.6 876,1523.2 926.7,1479.3 977.3,1453.2 1028,1435.1 1078.6,1406.4 1129.3,1383 1180,1363.9 1230.6,1356.4 1281.3,1348.9 1331.9,1346.4 1382.6,1340.2 1433.3,1338.9"/>
<g fill="#4472C4">
<circle cx="166.7" cy="1816" r="10.3"/>
<circle cx="217.4" cy="1812.7" r="10.3"/>
<circle cx="268.1" cy="1832.7" r="10.3"/>
<circle cx="318.7" cy="1819.7" r="10.3"/>
<circle cx="369.4" cy="1808.2" r="10.3"/>
<circle cx="420" cy="1793.2" r="10.3"/>
<circle cx="470.7" cy="1780.2" r="10.3"/>
<circle cx="521.4" cy="1769.8" r="10.3"/>
<circle cx="572" cy="1742.7" r="10.3"/>
<circle cx="622.7" cy="1717.2" r="10.3"/>
<circle cx="673.3" cy="1681.6" r="10.3"/>
<circle cx="724" cy="1644.3" r="10.3"/>
<circle cx="774.7" cy="1608.5" r="10.3"/>
<circle cx="825.3" cy="1566.6" r="10.3"/>
<circle cx="876" cy="1523.2" r="10.3"/>
<circle cx="926.7" cy="1479.3" r="10.3"/>
<circle cx="977.3" cy="1453.2" r="10.3"/>
<circle cx="1028" cy="1435.1" r="10.3"/>
<circle cx="1078.6" cy="1406.4" r="10.3"/>
<circle cx="1129.3" cy="1383" r="10.3"/>
<circle cx="1180" cy="1363.9" r="10.3"/>
<circle cx="1230.6" cy="1356.4" r="10.3"/>
<circle cx="1281.3" cy="1348.9" r="10.3"/>
<circle cx="1331.9" cy="1346.4" r="10.3"/>
<circle cx="1382.6" cy="1340.2" r="10.3"/>
<circle cx="1433.3" cy="1338.9" r="10.3"/>
</g></g>
<g>
<polyline class="s" stroke="#70AD47" points="166.7,1890.3 217.4,1884.7 268.1,1887.8 318.7,1868 369.4,1838.5 420,1805.2 470.7,1772.7 521.4,1739 572,1700.7 622.7,1666 673.3,1666 724,1587.5 774.7,1550.2 825.3,1512.6 876,1477.3 926.7,1446.3 977.3,1422.6 1028,1398.5 1078.6,1376.4 1129.3,1360.7 1180,1359.2 1230.6,1358.7 1281.3,1353.2 1331.9,1350.2 1382.6,1348.9 1433.3,1355.7"/>
<g fill="#70AD47">
<circle cx="166.7" cy="1890.3" r="10.3"/>
<circle cx="217.4" cy="1884.7" r="10.3"/>
<circle cx="268.1" cy="1887.8" r="10.3"/>
<circle cx="318.7" cy="1868" r="10.3"/>
<circle cx="369.4" cy="1838.5" r="10.3"/>
<circle cx="420" cy="1805.2" r="10.3"/>
<circle cx="470.7" cy="1772.7" r="10.3"/>
<circle cx="521.4" cy="1739" r="10.3"/>
<circle cx="572" cy="1700.7" r="10.3"/>
<circle cx="622.7" cy="1666" r="10.3"/>
<circle cx="673.3" cy="1666" r="10.3"/>
<circle cx="724" cy="1587.5" r="10.3"/>
<circle cx="774.7" cy="1550.2" r="10.3"/>
<circle cx="825.3" cy="1512.6" r="10.3"/>
<circle cx="876" cy="1477.3" r="10.3"/>
<circle cx="926.7" cy="1446.3" r="10.3"/>
<circle cx="977.3" cy="1422.6" r="10.3"/>
<circle cx="1028" cy="1398.5" r="10.3"/>
<circle cx="1078.6" cy="1376.4" r="10.3"/>
<circle cx="1129.3" cy="1360.7" r="10.3"/>
<circle cx="1180" cy="1359.2" r="10.3"/>
<circle cx="1230.6" cy="1358.7" r="10.3"/>
<circle cx="1281.3" cy="1353.2" r="10.3"/>
<circle cx="1331.9" cy="1350.2" r="10.3"/>
<circle cx="1382.6" cy="1348.9" r="10.3"/>
<circle cx="1433.3" cy="1355.7" r="10.3"/>
</g></g>
<g>
<polyline class="s" stroke="#255E91" points="166.7,1874.3 217.4,1875.5 268.1,1862.5 318.7,1854 369.4,1833 420,1804 470.7,1776.4 521.4,1746.5 572,1712.7 622.7,1673.3 673.3,1632.6 724,1592.5 774.7,1552.7 825.3,1513.9 876,1476.4 926.7,1443.2 977.3,1415.1 1028,1382.6 1078.6,1365.1 1129.3,1348.5 1180,1331.6 1230.6,1331.9 1281.3,1310.1 1331.9,1303.1 1382.6,1289.6 1433.3,1300.1"/>
<g fill="#255E91">
<circle cx="166.7" cy="1874.3" r="10.3"/>
<circle cx="217.4" cy="1875.5" r="10.3"/>
<circle cx="268.1" cy="1862.5" r="10.3"/>
<circle cx="318.7" cy="1854" r="10.3"/>
<circle cx="369.4" cy="1833" r="10.3"/>
<circle cx="420" cy="1804" r="10.3"/>
<circle cx="470.7" cy="1776.4" r="10.3"/>
<circle cx="521.4" cy="1746.5" r="10.3"/>
<circle cx="572" cy="1712.7" r="10.3"/>
<circle cx="622.7" cy="1673.3" r="10.3"/>
<circle cx="673.3" cy="1632.6" r="10.3"/>
<circle cx="724" cy="1592.5" r="10.3"/>
<circle cx="774.7" cy="1552.7" r="10.3"/>
<circle cx="825.3" cy="1513.9" r="10.3"/>
<circle cx="876" cy="1476.4" r="10.3"/>
<circle cx="926.7" cy="1443.2" r="10.3"/>
<circle cx="977.3" cy="1415.1" r="10.3"/>
<circle cx="1028" cy="1382.6" r="10.3"/>
<circle cx="1078.6" cy="1365.1" r="10.3"/>
<circle cx="1129.3" cy="1348.5" r="10.3"/>
<circle cx="1180" cy="1331.6" r="10.3"/>
<circle cx="1230.6" cy="1331.9" r="10.3"/>
<circle cx="1281.3" cy="1310.1" r="10.3"/>
<circle cx="1331.9" cy="1303.1" r="10.3"/>
<circle cx="1382.6" cy="1289.6" r="10.3"/>
<circle cx="1433.3" cy="1300.1" r="10.3"/>
</g></g>
<g>
<polyline class="s" stroke="#9E480E" points="166.7,1992.5 217.4,1972.4 268.1,1957.2 318.7,1965.4 369.4,1978.4 420,1971.7 470.7,1931.6 521.4,1894.6 572,1842 622.7,1799 673.3,1759.5 724,1732.7 774.7,1715.2 825.3,1670.1 876,1628.3 926.7,1577.7 977.3,1524.2 1028,1469.4 1078.6,1420.1 1129.3,1375.1 1180,1340.1 1230.6,1310.1 1281.3,1284.6 1331.9,1263.8 1382.6,1247.5 1433.3,1244.5"/>
<g fill="#9E480E">
<circle cx="166.7" cy="1992.5" r="10.3"/>
<circle cx="217.4" cy="1972.4" r="10.3"/>
<circle cx="268.1" cy="1957.2" r="10.3"/>
<circle cx="318.7" cy="1965.4" r="10.3"/>
<circle cx="369.4" cy="1978.4" r="10.3"/>
<circle cx="420" cy="1971.7" r="10.3"/>
<circle cx="470.7" cy="1931.6" r="10.3"/>
<circle cx="521.4" cy="1894.6" r="10.3"/>
<circle cx="572" cy="1842" r="10.3"/>
<circle cx="622.7" cy="1799" r="10.3"/>
<circle cx="673.3" cy="1759.5" r="10.3"/>
<circle cx="724" cy="1732.7" r="10.3"/>
<circle cx="774.7" cy="1715.2" r="10.3"/>
<circle cx="825.3" cy="1670.1" r="10.3"/>
<circle cx="876" cy="1628.3" r="10.3"/>
<circle cx="926.7" cy="1577.7" r="10.3"/>
<circle cx="977.3" cy="1524.2" r="10.3"/>
<circle cx="1028" cy="1469.4" r="10.3"/>
<circle cx="1078.6" cy="1420.1" r="10.3"/>
<circle cx="1129.3" cy="1375.1" r="10.3"/>
<circle cx="1180" cy="1340.1" r="10.3"/>
<circle cx="1230.6" cy="1310.1" r="10.3"/>
<circle cx="1281.3" cy="1284.6" r="10.3"/>
<circle cx="1331.9" cy="1263.8" r="10.3"/>
<circle cx="1382.6" cy="1247.5" r="10.3"/>
<circle cx="1433.3" cy="1244.5" r="10.3"/>
</g></g>
<g>
<polyline class="s" stroke="#636363" points="166.7,1733.1 217.4,1725.5 268.1,1717.9 318.7,1710 369.4,1703 420,1697.3 470.7,1690.3 521.4,1682.6 572,1675.6 622.7,1666.4 673.3,1658.9 724,1653.1 774.7,1649 825.3,1642 876,1635.3 926.7,1627 977.3,1620 1028,1610.3 1078.6,1602.8 1129.3,1596.5 1180,1589 1230.6,1580.7 1281.3,1570.2 1331.9,1559.4 1382.6,1549.7 1433.3,1540.2"/>
<g fill="#636363">
<circle cx="166.7" cy="1733.1" r="10.3"/>
<circle cx="217.4" cy="1725.5" r="10.3"/>
<circle cx="268.1" cy="1717.9" r="10.3"/>
<circle cx="318.7" cy="1710" r="10.3"/>
<circle cx="369.4" cy="1703" r="10.3"/>
<circle cx="420" cy="1697.3" r="10.3"/>
<circle cx="470.7" cy="1690.3" r="10.3"/>
<circle cx="521.4" cy="1682.6" r="10.3"/>
<circle cx="572" cy="1675.6" r="10.3"/>
<circle cx="622.7" cy="1666.4" r="10.3"/>
<circle cx="673.3" cy="1658.9" r="10.3"/>
<circle cx="724" cy="1653.1" r="10.3"/>
<circle cx="774.7" cy="1649" r="10.3"/>
<circle cx="825.3" cy="1642" r="10.3"/>
<circle cx="876" cy="1635.3" r="10.3"/>
<circle cx="926.7" cy="1627" r="10.3"/>
<circle cx="977.3" cy="1620" r="10.3"/>
<circle cx="1028" cy="1610.3" r="10.3"/>
<circle cx="1078.6" cy="1602.8" r="10.3"/>
<circle cx="1129.3" cy="1596.5" r="10.3"/>
<circle cx="1180" cy="1589" r="10.3"/>
<circle cx="1230.6" cy="1580.7" r="10.3"/>
<circle cx="1281.3" cy="1570.2" r="10.3"/>
<circle cx="1331.9" cy="1559.4" r="10.3"/>
<circle cx="1382.6" cy="1549.7" r="10.3"/>
<circle cx="1433.3" cy="1540.2" r="10.3"/>
</g></g>
<g>
<polyline class="s" stroke="#BF9000" points="166.7,1699.1 217.4,1692.1 268.1,1686.6 318.7,1681.3 369.4,1676.3 420,1671.3 470.7,1666 521.4,1660.9 572,1655.6 622.7,1650.6 673.3,1646.4 724,1643.5 774.7,1640 825.3,1635.8 876,1629.5 926.7,1625.3 977.3,1620.3 1028,1615.3 1078.6,1610.3 1129.3,1605.3 1180,1599.5 1230.6,1594 1281.3,1587.7 1331.9,1581.5 1382.6,1575.7 1433.3,1569.5"/>
<g fill="#997300">
<circle cx="166.7" cy="1699.1" r="10.3"/>
<circle cx="217.4" cy="1692.1" r="10.3"/>
<circle cx="268.1" cy="1686.6" r="10.3"/>
<circle cx="318.7" cy="1681.3" r="10.3"/>
<circle cx="369.4" cy="1676.3" r="10.3"/>
<circle cx="420" cy="1671.3" r="10.3"/>
<circle cx="470.7" cy="1666" r="10.3"/>
<circle cx="521.4" cy="1660.9" r="10.3"/>
<circle cx="572" cy="1655.6" r="10.3"/>
<circle cx="622.7" cy="1650.6" r="10.3"/>
<circle cx="673.3" cy="1646.4" r="10.3"/>
<circle cx="724" cy="1643.5" r="10.3"/>
<circle cx="774.7" cy="1640" r="10.3"/>
<circle cx="825.3" cy="1635.8" r="10.3"/>
<circle cx="876" cy="1629.5" r="10.3"/>
<circle cx="926.7" cy="1625.3" r="10.3"/>
<circle cx="977.3" cy="1620.3" r="10.3"/>
<circle cx="1028" cy="1615.3" r="10.3"/>
<circle cx="1078.6" cy="1610.3" r="10.3"/>
<circle cx="1129.3" cy="1605.3" r="10.3"/>
<circle cx="1180" cy="1599.5" r="10.3"/>
<circle cx="1230.6" cy="1594" r="10.3"/>
<circle cx="1281.3" cy="1587.7" r="10.3"/>
<circle cx="1331.9" cy="1581.5" r="10.3"/>
<circle cx="1382.6" cy="1575.7" r="10.3"/>
<circle cx="1433.3" cy="1569.5" r="10.3"/>
</g></g>
<g>
<polyline class="s" stroke="#264478" points="166.7,1735.9 217.4,1727.1 268.1,1719 318.7,1708.3 369.4,1701 420,1693.5 470.7,1684.3 521.4,1676.4 572,1668.1 622.7,1660.1 673.3,1651.4 724,1642.6 774.7,1635.2 825.3,1626.4 876,1617.8 926.7,1609.8 977.3,1601.5 1028,1593.5 1078.6,1586.5 1129.3,1577.7 1180,1569 1230.6,1558.9 1281.3,1549.4 1331.9,1538.2 1382.6,1527.7 1433.3,1516.9"/>
<g fill="#264478">
<circle cx="166.7" cy="1735.9" r="10.3"/>
<circle cx="217.4" cy="1727.1" r="10.3"/>
<circle cx="268.1" cy="1719" r="10.3"/>
<circle cx="318.7" cy="1708.3" r="10.3"/>
<circle cx="369.4" cy="1701" r="10.3"/>
<circle cx="420" cy="1693.5" r="10.3"/>
<circle cx="470.7" cy="1684.3" r="10.3"/>
<circle cx="521.4" cy="1676.4" r="10.3"/>
<circle cx="572" cy="1668.1" r="10.3"/>
<circle cx="622.7" cy="1660.1" r="10.3"/>
<circle cx="673.3" cy="1651.4" r="10.3"/>
<circle cx="724" cy="1642.6" r="10.3"/>
<circle cx="774.7" cy="1635.2" r="10.3"/>
<circle cx="825.3" cy="1626.4" r="10.3"/>
<circle cx="876" cy="1617.8" r="10.3"/>
<circle cx="926.7" cy="1609.8" r="10.3"/>
<circle cx="977.3" cy="1601.5" r="10.3"/>
<circle cx="1028" cy="1593.5" r="10.3"/>
<circle cx="1078.6" cy="1586.5" r="10.3"/>
<circle cx="1129.3" cy="1577.7" r="10.3"/>
<circle cx="1180" cy="1569" r="10.3"/>
<circle cx="1230.6" cy="1558.9" r="10.3"/>
<circle cx="1281.3" cy="1549.4" r="10.3"/>
<circle cx="1331.9" cy="1538.2" r="10.3"/>
<circle cx="1382.6" cy="1527.7" r="10.3"/>
<circle cx="1433.3" cy="1516.9" r="10.3"/>
</g></g>
<g class="sg" font-size="43.5" text-anchor="end">
<text x="93.5" y="2074.5">-4</text>
<text x="93.5" y="1971.5">-3</text>
<text x="93.5" y="1868.5">-2</text>
<text x="93.5" y="1765.5">-1</text>
<text x="93.5" y="1662.5">0</text>
<text x="93.5" y="1559.5">1</text>
<text x="93.5" y="1456.5">2</text>
<text x="93.5" y="1353.5">3</text>
<text x="93.5" y="1250.5">4</text>
<text x="93.5" y="1147.5">5</text>
</g>
<g class="tk" text-anchor="middle">
<text x="166.7" y="1721.7">-20</text>
<text x="268.1" y="1721.7">-16</text>
<text x="369.4" y="1721.7">-12</text>
<text x="470.7" y="1721.7">-8</text>
<text x="572" y="1721.7">-4</text>
<text x="673.3" y="1721.7">0</text>
<text x="774.7" y="1721.7">4</text>
<text x="876" y="1721.7">8</text>
<text x="977.3" y="1721.7">12</text>
<text x="1078.6" y="1721.7">16</text>
<text x="1180" y="1721.7">20</text>
<text x="1281.3" y="1721.7">24</text>
<text x="1382.6" y="1721.7">28</text>
</g>
<text class="tk" x="562" y="1933">Angle of Attack (degrees)</text>
<text transform="translate(54.2,1630) rotate(-90)" font-size="67">C</text><text transform="translate(69.2,1587.7) rotate(-90)" font-size="42.5">l</text>
<line class="s" stroke="#5B9BD5" x1="239.6" y1="1164.9" x2="307.5" y2="1164.9"/>
<circle cx="273.2" cy="1164.9" r="10.3" fill="#5B9BD5"/>
<text class="lg" x="315.5" y="1175.8">S. tiburo</text>
<line class="s" stroke="#ED7D31" x1="542.4" y1="1164.9" x2="610.2" y2="1164.9"/>
<circle cx="576" cy="1164.9" r="10.3" fill="#ED7D31"/>
<text class="lg" x="618" y="1175.8">S. corona</text>
<line class="s" stroke="#A5A5A5" x1="845.3" y1="1164.9" x2="912.9" y2="1164.9"/>
<circle cx="878.7" cy="1164.9" r="10.3" fill="#A5A5A5"/>
<text class="lg" x="920.7" y="1175.8">S. media</text>
<line class="s" stroke="#FFC000" x1="239.6" y1="1206.3" x2="307.5" y2="1206.3"/>
<circle cx="273.2" cy="1206.3" r="10.3" fill="#FFC000"/>
<text class="lg" x="315.5" y="1217.2">S. tudes</text>
<line class="s" stroke="#4472C4" x1="542.4" y1="1206.3" x2="610.2" y2="1206.3"/>
<circle cx="576" cy="1206.3" r="10.3" fill="#4472C4"/>
<text class="lg" x="618" y="1217.2">S. lewini</text>
<line class="s" stroke="#70AD47" x1="845.3" y1="1206.3" x2="912.9" y2="1206.3"/>
<circle cx="878.7" cy="1206.3" r="10.3" fill="#70AD47"/>
<text class="lg" x="920.7" y="1217.2">S. zygaena</text>
<line class="s" stroke="#255E91" x1="239.6" y1="1247.7" x2="307.5" y2="1247.7"/>
<circle cx="273.2" cy="1247.7" r="10.3" fill="#255E91"/>
<text class="lg" x="315.5" y="1258.6">S. mokarran</text>
<line class="s" stroke="#9E480E" x1="542.4" y1="1247.7" x2="610.2" y2="1247.7"/>
<circle cx="576" cy="1247.7" r="10.3" fill="#9E480E"/>
<text class="lg" x="618" y="1258.6">E. blochii</text>
<line class="s" stroke="#636363" x1="845.3" y1="1247.7" x2="912.9" y2="1247.7"/>
<circle cx="878.7" cy="1247.7" r="10.3" fill="#636363"/>
<text class="lg" x="920.7" y="1258.6">C. leucas</text>
<line class="s" stroke="#BF9000" x1="239.6" y1="1289.1" x2="307.5" y2="1289.1"/>
<circle cx="273.2" cy="1289.1" r="10.3" fill="#997300"/>
<text class="lg" x="315.5" y="1300">C. limbatus</text>
<line class="s" stroke="#264478" x1="542.4" y1="1289.1" x2="610.2" y2="1289.1"/>
<circle cx="576" cy="1289.1" r="10.3" fill="#264478"/>
<text class="lg" x="618" y="1300">N. brevirostris</text>
<rect x="1282.5" y="1916.4" width="171.1" height="166" fill="#fff" stroke="#3a3a3a" stroke-width="1.1"/>
<path d="M1285.7 1925.9v-6.3h6.6" fill="none" stroke="#8a8a8a" stroke-width="1"/>
<rect x="1287.7" y="1922" width="2" height="1.2" fill="#e00"/>
<text class="sans" x="1294.4" y="1923.9" font-size="5.1" font-weight="bold" textLength="128.5" lengthAdjust="spacingAndGlyphs">The image part with relationship ID rId1 was not found in the file.</text>
</svg></body></html>
